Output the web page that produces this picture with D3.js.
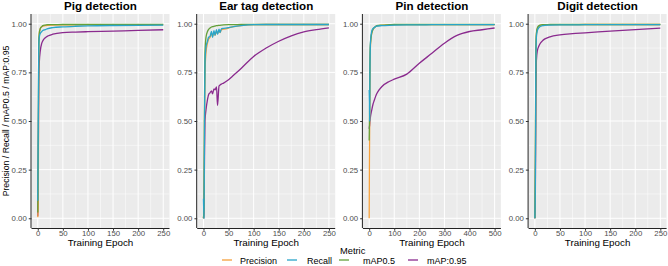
<!DOCTYPE html>
<html>
<head>
<meta charset="utf-8">
<script src="https://cdn.jsdelivr.net/npm/d3@7"></script>
<style>
html,body{margin:0;padding:0;background:#fff;}
svg{display:block;font-family:"Liberation Sans",Arial,sans-serif;}
</style>
</head>
<body>
<svg id="chart" width="668" height="266"></svg>
<script>
// ---------------- DATA ----------------
const panelTitles = ["Pig detection", "Ear tag detection", "Pin detection", "Digit detection"];
const metrics = ["Precision", "Recall", "mAP0.5", "mAP:0.95"];
const metricColors = ["#F4A03C", "#29A5C9", "#64A03A", "#8A2A8E"];
const drawOrder = [3, 0, 2, 1];
const yTicks = [0, 0.25, 0.5, 0.75, 1];
const xTicks250 = [0, 50, 100, 150, 200, 250];
const xTicks500 = [0, 100, 200, 300, 400, 500];
const xMax = [250, 250, 500, 250];

// Pig detection
const pigEpochs        = [0, 1, 2, 3, 5, 8, 10, 15, 20, 30, 50, 75, 100, 150, 200, 250];
const pigPrecision     = [0.005, 0.07, 0.86, 0.95, 0.975, 0.985, 0.988, 0.99, 0.992, 0.993, 0.994, 0.994, 0.995, 0.995, 0.995, 0.995];
const pigRecall        = [0.09, 0.5, 0.88, 0.93, 0.95, 0.96, 0.965, 0.97, 0.975, 0.98, 0.984, 0.987, 0.989, 0.991, 0.992, 0.993];
const pigMap50         = [0.03, 0.45, 0.9, 0.95, 0.975, 0.985, 0.99, 0.993, 0.995, 0.995, 0.996, 0.996, 0.996, 0.996, 0.996, 0.996];
const pigMap95         = [0.01, 0.3, 0.7, 0.8, 0.86, 0.9, 0.912, 0.928, 0.937, 0.946, 0.954, 0.957, 0.959, 0.962, 0.966, 0.969];

// Ear tag detection
const earEpochs        = [0, 1, 2, 3, 5, 8, 10, 13, 16, 18, 21, 23, 26, 28, 31, 33, 36, 40, 50, 60, 75, 100, 125, 150, 175, 200, 225, 250];
const earPrecision     = [0.0, 0.05, 0.5, 0.75, 0.85, 0.9, 0.92, 0.93, 0.95, 0.935, 0.955, 0.94, 0.96, 0.95, 0.965, 0.955, 0.97, 0.972, 0.978, 0.985, 0.99, 0.995, 0.996, 0.996, 0.996, 0.996, 0.996, 0.996];
const earRecall        = [0.1, 0.0, 0.45, 0.8, 0.88, 0.91, 0.93, 0.935, 0.96, 0.93, 0.965, 0.94, 0.97, 0.945, 0.972, 0.955, 0.975, 0.976, 0.98, 0.985, 0.99, 0.995, 0.996, 0.996, 0.996, 0.996, 0.996, 0.996];
const earMap50         = [0.0, 0.05, 0.6, 0.85, 0.93, 0.96, 0.97, 0.978, 0.983, 0.985, 0.987, 0.988, 0.99, 0.99, 0.992, 0.992, 0.993, 0.994, 0.995, 0.995, 0.996, 0.996, 0.996, 0.996, 0.996, 0.996, 0.996, 0.996];
const earMap95         = [0.0, 0.02, 0.3, 0.5, 0.557, 0.61, 0.634, 0.645, 0.655, 0.64, 0.665, 0.66, 0.675, 0.58, 0.68, 0.685, 0.69, 0.695, 0.712, 0.735, 0.77, 0.832, 0.875, 0.91, 0.938, 0.958, 0.97, 0.979];

// Pin detection
const pinEpochs        = [0, 1, 2, 3, 5, 10, 15, 20, 25, 30, 50, 80, 100, 150, 200, 250, 300, 350, 400, 450, 500];
const pinPrecision     = [0.0, 0.3, 0.47, 0.7, 0.88, 0.95, 0.97, 0.98, 0.985, 0.988, 0.992, 0.994, 0.995, 0.995, 0.995, 0.995, 0.995, 0.995, 0.995, 0.995, 0.995];
const pinRecall        = [0.66, 0.6, 0.5, 0.75, 0.9, 0.96, 0.975, 0.98, 0.985, 0.988, 0.99, 0.992, 0.993, 0.994, 0.994, 0.995, 0.995, 0.995, 0.995, 0.995, 0.995];
const pinMap50         = [0.4, 0.5, 0.6, 0.8, 0.9, 0.95, 0.97, 0.98, 0.985, 0.99, 0.993, 0.995, 0.996, 0.996, 0.996, 0.996, 0.996, 0.996, 0.996, 0.996, 0.996];
const pinMap95         = [0.46, 0.47, 0.48, 0.5, 0.52, 0.555, 0.585, 0.605, 0.624, 0.64, 0.676, 0.703, 0.715, 0.741, 0.797, 0.848, 0.90, 0.94, 0.96, 0.969, 0.978];

// Digit detection
const digitEpochs      = [0, 1, 2, 3, 5, 8, 10, 15, 20, 30, 50, 75, 100, 150, 200, 250];
const digitPrecision   = [0.0, 0.3, 0.85, 0.94, 0.975, 0.985, 0.99, 0.993, 0.994, 0.995, 0.995, 0.995, 0.996, 0.996, 0.996, 0.996];
const digitRecall      = [0.0, 0.2, 0.8, 0.93, 0.965, 0.98, 0.985, 0.99, 0.992, 0.993, 0.994, 0.994, 0.995, 0.995, 0.995, 0.995];
const digitMap50       = [0.0, 0.3, 0.85, 0.95, 0.98, 0.99, 0.993, 0.995, 0.995, 0.996, 0.996, 0.996, 0.996, 0.996, 0.996, 0.996];
const digitMap95       = [0.0, 0.15, 0.6, 0.81, 0.862, 0.885, 0.896, 0.912, 0.922, 0.933, 0.943, 0.949, 0.953, 0.962, 0.97, 0.977];

const panelEpochs = [pigEpochs, earEpochs, pinEpochs, digitEpochs];
const panelSeries = [
  [pigPrecision, pigRecall, pigMap50, pigMap95],
  [earPrecision, earRecall, earMap50, earMap95],
  [pinPrecision, pinRecall, pinMap50, pinMap95],
  [digitPrecision, digitRecall, digitMap50, digitMap95]
];

// ---------------- LAYOUT ----------------
const svg = d3.select("#chart");
const panelLeft0 = 31.5, panelW = 138, panelStep = 165.7;
const panelTop = 14, panelBottom = 228;
const tickCol = "#4D4D4D";

const y = d3.scaleLinear().domain([-0.05, 1.05]).range([panelBottom, panelTop]);

panelTitles.forEach((title, p) => {
  const x0 = panelLeft0 + p * panelStep;
  const xm = xMax[p];
  const x = d3.scaleLinear().domain([-0.05 * xm, 1.05 * xm]).range([x0, x0 + panelW]);
  const g = svg.append("g");

  // background
  g.append("rect").attr("x", x0).attr("y", panelTop).attr("width", panelW)
    .attr("height", panelBottom - panelTop).attr("fill", "#EBEBEB");

  const xt = xm === 500 ? xTicks500 : xTicks250;
  // minor grid
  const yMinor = [0.125, 0.375, 0.625, 0.875];
  const xMinor = xt.slice(0, -1).map((v, i) => (v + xt[i + 1]) / 2);
  g.selectAll(".ymin").data(yMinor).join("line")
    .attr("x1", x0).attr("x2", x0 + panelW).attr("y1", d => y(d)).attr("y2", d => y(d))
    .attr("stroke", "#fff").attr("stroke-width", 0.5);
  g.selectAll(".xmin").data(xMinor).join("line")
    .attr("y1", panelTop).attr("y2", panelBottom).attr("x1", d => x(d)).attr("x2", d => x(d))
    .attr("stroke", "#fff").attr("stroke-width", 0.5);
  // major grid
  g.selectAll(".ymaj").data(yTicks).join("line")
    .attr("x1", x0).attr("x2", x0 + panelW).attr("y1", d => y(d)).attr("y2", d => y(d))
    .attr("stroke", "#fff").attr("stroke-width", 1);
  g.selectAll(".xmaj").data(xt).join("line")
    .attr("y1", panelTop).attr("y2", panelBottom).attr("x1", d => x(d)).attr("x2", d => x(d))
    .attr("stroke", "#fff").attr("stroke-width", 1);

  // lines
  const ep = panelEpochs[p];
  drawOrder.forEach(m => {
    const vals = panelSeries[p][m];
    const pts = ep.map((e, i) => [e, vals[i]]);
    const line = d3.line().x(d => x(d[0])).y(d => y(d[1])).curve(d3.curveMonotoneX);
    g.append("path").attr("d", line(pts)).attr("fill", "none")
      .attr("stroke", metricColors[m]).attr("stroke-width", 1.3)
      .attr("stroke-linejoin", "round");
  });

  // axes
  const xAxis = d3.axisBottom(x).tickValues(xt).tickSize(2.75).tickPadding(2).tickFormat(d3.format("d"));
  const gx = g.append("g").attr("transform", `translate(0,${panelBottom})`).call(xAxis);
  gx.select(".domain").attr("d", `M${x0},0.5H${x0 + panelW}`).attr("stroke", "#222").attr("stroke-width", 1);
  gx.selectAll(".tick line").attr("stroke", "#333");
  gx.selectAll(".tick text").attr("fill", tickCol).attr("font-size", 7.8)
    .attr("font-family", "Liberation Sans, Arial, sans-serif")
    .attr("y", 7.8).attr("dy", null);

  const yAxis = d3.axisLeft(y).tickValues(yTicks).tickSize(2.75).tickPadding(2).tickFormat(d3.format(".2f"));
  const gy = g.append("g").attr("transform", `translate(${x0},0)`).call(yAxis);
  gy.select(".domain").attr("d", `M-0.5,${panelTop}V${panelBottom}`).attr("stroke", "#222").attr("stroke-width", 1);
  gy.selectAll(".tick line").attr("stroke", "#333");
  gy.selectAll(".tick text").attr("fill", tickCol).attr("font-size", 7.8)
    .attr("font-family", "Liberation Sans, Arial, sans-serif");

  // title
  svg.append("text").attr("x", x0 + panelW / 2).attr("y", 9.5).attr("text-anchor", "middle")
    .attr("font-size", 11.6).attr("font-weight", "bold").attr("fill", "#000").text(title);
  // x-axis title
  svg.append("text").attr("x", x0 + panelW / 2).attr("y", 246).attr("text-anchor", "middle")
    .attr("font-size", 9.8).attr("fill", "#000").text("Training Epoch");
});

// y-axis title
svg.append("text").attr("transform", "translate(8.5,121) rotate(-90)").attr("text-anchor", "middle")
  .attr("font-size", 8.7).attr("fill", "#000").text("Precision / Recall / mAP0.5 / mAP:0.95");

// legend
svg.append("text").attr("x", 340).attr("y", 253.5).attr("font-size", 9.3).attr("fill", "#000").text("Metric");
const legendKeyX = [222, 287, 339, 408];
const legendTextX = [240, 307, 363, 427];
metrics.forEach((m, i) => {
  svg.append("line").attr("x1", legendKeyX[i]).attr("x2", legendKeyX[i] + 10)
    .attr("y1", 260).attr("y2", 260).attr("stroke", metricColors[i]).attr("stroke-width", 1.3);
  svg.append("text").attr("x", legendTextX[i]).attr("y", 263.5).attr("font-size", 9)
    .attr("fill", "#000").text(m);
});
</script>
</body>
</html>
